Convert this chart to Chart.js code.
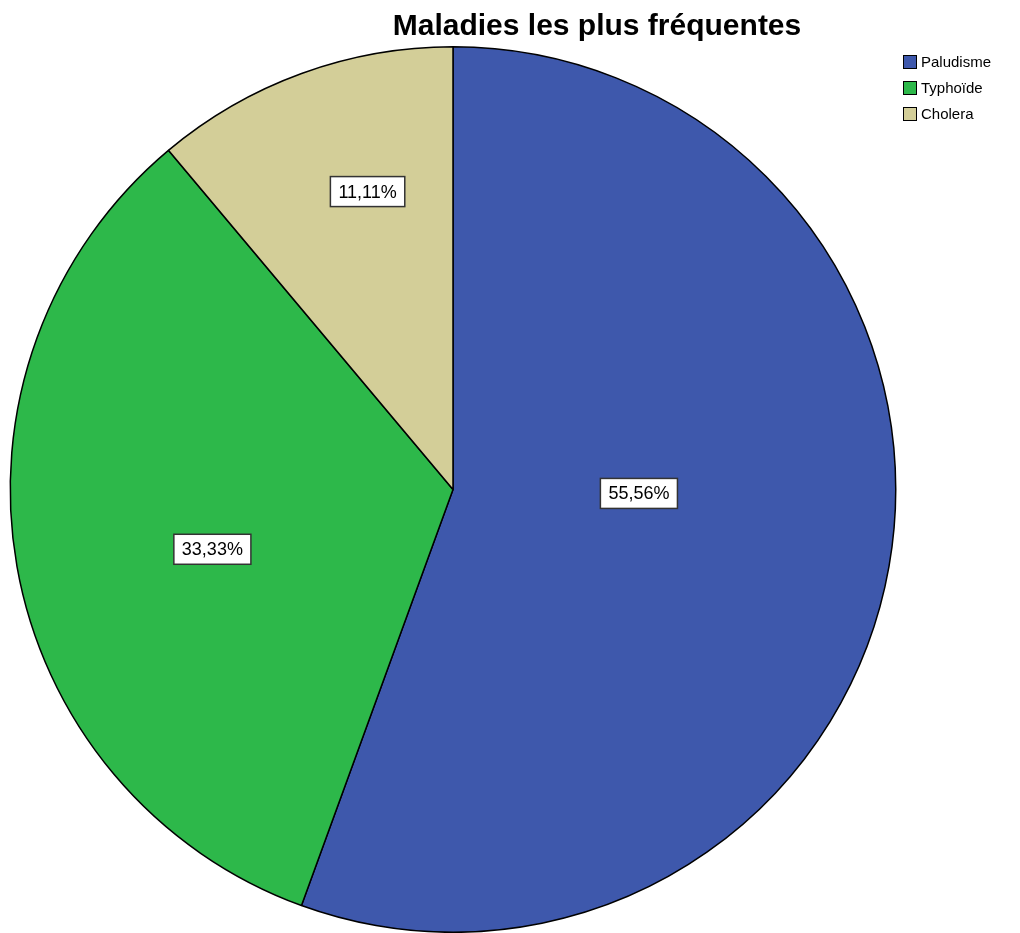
<!DOCTYPE html>
<html>
<head>
<meta charset="utf-8">
<script src="https://cdn.jsdelivr.net/npm/chart.js@4/dist/chart.umd.min.js"></script>
<style>
  html, body { margin: 0; padding: 0; background: #fff; }
  #wrap { width: 1020px; height: 933px; position: relative; }
</style>
</head>
<body>
<div id="wrap"><canvas id="maladies"></canvas></div>
<script>
// Maladies les plus fréquentes
const categories = ["Paludisme", "Typhoïde", "Cholera"];
const pourcentages = [55.56, 33.33, 11.11];
const couleurs = ["#3E58AC", "#2DB84A", "#D3CE98"];
// position des étiquettes dans chaque part (fraction de l'angle, fraction du rayon)
const labelAngle = [0.456, 0.467, 0.6];
const labelRadius = [0.42, 0.56, 0.70];

const pieLabels = {
  id: 'pieLabels',
  afterDraw(chart) {
    const ctx = chart.ctx;
    const meta = chart.getDatasetMeta(0);

    // titre
    ctx.save();
    ctx.fillStyle = '#000';
    ctx.font = 'bold 30px "Liberation Sans", Arial, sans-serif';
    ctx.textAlign = 'center';
    ctx.textBaseline = 'middle';
    ctx.fillText('Maladies les plus fréquentes', 597, 27);

    // légende
    ctx.font = '15px "Liberation Sans", Arial, sans-serif';
    ctx.textAlign = 'left';
    categories.forEach(function(cat, i) {
      const y = 55 + i * 26;
      ctx.fillStyle = couleurs[i];
      ctx.fillRect(903, y, 14, 14);
      ctx.strokeStyle = '#000';
      ctx.lineWidth = 1;
      ctx.strokeRect(903.5, y + 0.5, 13, 13);
      ctx.fillStyle = '#000';
      ctx.fillText(cat, 921, y + 8);
    });

    // étiquettes
    ctx.font = '18px "Liberation Sans", Arial, sans-serif';
    ctx.textAlign = 'center';
    meta.data.forEach(function(arc, i) {
      const p = arc.getProps(['x', 'y', 'startAngle', 'endAngle', 'outerRadius'], true);
      const a = p.startAngle + (p.endAngle - p.startAngle) * labelAngle[i];
      const r = p.outerRadius * labelRadius[i];
      const x = p.x + Math.cos(a) * r;
      const y = p.y + Math.sin(a) * r;
      const txt = pourcentages[i].toFixed(2).replace('.', ',') + '%';
      const w = ctx.measureText(txt).width + 16;
      const h = 30;
      ctx.fillStyle = '#fff';
      ctx.fillRect(x - w / 2, y - h / 2, w, h);
      ctx.strokeStyle = '#333';
      ctx.lineWidth = 1.5;
      ctx.strokeRect(x - w / 2, y - h / 2, w, h);
      ctx.fillStyle = '#000';
      ctx.fillText(txt, x, y + 1);
    });
    ctx.restore();
  }
};

const ctx = document.getElementById('maladies').getContext('2d');
new Chart(ctx, {
  type: 'pie',
  data: {
    labels: categories,
    datasets: [{
      data: pourcentages,
      backgroundColor: couleurs,
      borderColor: '#000',
      borderWidth: 1.5
    }]
  },
  options: {
    responsive: true,
    maintainAspectRatio: false,
    animation: false,
    layout: {
      padding: { left: 9, right: 123, top: 46, bottom: 0 }
    },
    plugins: {
      legend: { display: false },
      title: { display: false },
      tooltip: { enabled: false }
    }
  },
  plugins: [pieLabels]
});
</script>
</body>
</html>
